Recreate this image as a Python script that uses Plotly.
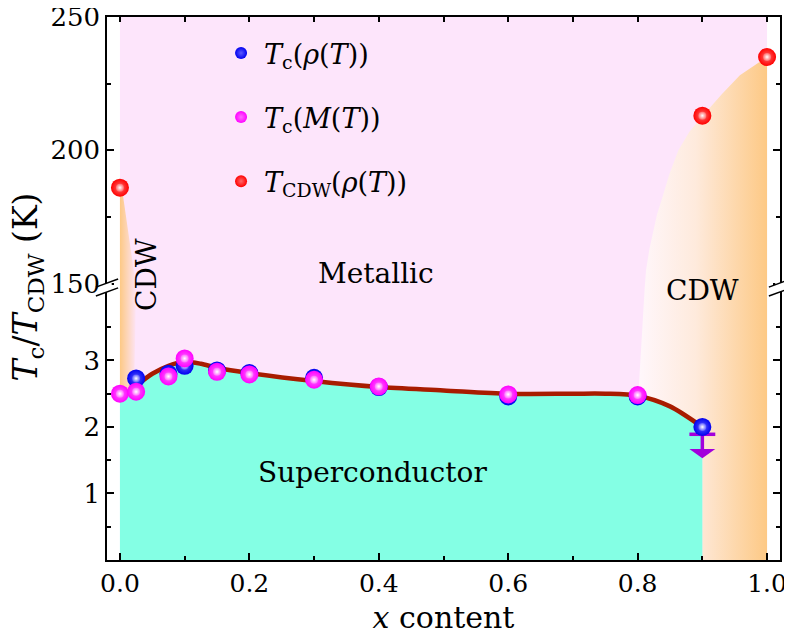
import plotly.graph_objects as go

# ---------------- data ----------------
x_rho = [0.025, 0.075, 0.1, 0.15, 0.2, 0.3, 0.4, 0.6, 0.8, 0.9]
tc_rho = [2.73, 2.80, 2.92, 2.85, 2.81, 2.74, 2.60, 2.46, 2.46, 2.00]

x_mag = [0.0, 0.025, 0.075, 0.1, 0.15, 0.2, 0.3, 0.4, 0.6, 0.8]
tc_mag = [2.50, 2.53, 2.76, 3.03, 2.83, 2.79, 2.71, 2.61, 2.49, 2.48]

x_cdw = [0.0, 0.9, 1.0]
t_cdw = [186, 213, 235]

# superconducting dome boundary (guide line)
sc_x = [0.0, 0.025, 0.05, 0.075, 0.1, 0.125, 0.15, 0.2, 0.3, 0.4, 0.5, 0.6, 0.7, 0.75, 0.8, 0.85, 0.9]
sc_y = [2.42, 2.62, 2.80, 2.92, 2.98, 2.95, 2.89, 2.81, 2.69, 2.60, 2.55, 2.50, 2.50, 2.50, 2.47, 2.31, 2.00]

# right CDW phase boundary (upper panel)
cdw_bx = [0.811, 0.813, 0.818, 0.824, 0.83, 0.837, 0.849, 0.863, 0.88, 0.9, 0.93, 0.958, 1.0]
cdw_by = [148.75, 155, 162.7, 170, 176, 181.4, 191, 200, 207, 212.8, 221, 228.2, 235]

# upper-limit point
ul_x = 0.9
ul_y = 2.0

x_ticks = [0.0, 0.2, 0.4, 0.6, 0.8, 1.0]
x_ticklabels = ["0.0", "0.2", "0.4", "0.6", "0.8", "1.0"]
y_low_ticks = [1, 2, 3]
y_high_ticks = [150, 200, 250]

# ---------------- style ----------------
FONT = "DejaVu Serif"
PINK = "#fde5fb"
CYAN = "#84ffe4"
ORANGE = "#fdc985"
LINE = "#a81c00"
PURPLE = "#a200dc"

Y_LOW = [0, 4.105]
Y_HIGH = [148.75, 250]
X_RANGE = [-0.02, 1.02]
D = 0.5028

fig = go.Figure()

# left CDW strip (upper)
fig.add_trace(go.Scatter(
    x=[x_cdw[0], x_cdw[0] + 0.003, 0.025, x_cdw[0]],
    y=[t_cdw[0], t_cdw[0], Y_HIGH[0], Y_HIGH[0]],
    xaxis="x2", yaxis="y2", mode="lines", line=dict(width=0), fill="toself",
    fillgradient=dict(type="horizontal", colorscale=[[0, ORANGE], [1, PINK]], start=0, stop=0.026),
    hoverinfo="skip", showlegend=False))
# left CDW strip (lower)
fig.add_trace(go.Scatter(
    x=[0.0, 0.025, 0.022, 0.0],
    y=[Y_LOW[1], Y_LOW[1], 2.6, 2.45],
    xaxis="x", yaxis="y", mode="lines", line=dict(width=0), fill="toself",
    fillgradient=dict(type="horizontal", colorscale=[[0, ORANGE], [1, PINK]], start=0, stop=0.026),
    hoverinfo="skip", showlegend=False))

grad_cs = [[0, "#fff7fc"], [0.45, "#feeadc"], [1, ORANGE]]
# right CDW (upper)
fig.add_trace(go.Scatter(
    x=cdw_bx + [1.0, cdw_bx[0]],
    y=cdw_by + [Y_HIGH[0], Y_HIGH[0]],
    xaxis="x2", yaxis="y2", mode="lines", line=dict(width=0), fill="toself",
    fillgradient=dict(type="horizontal", colorscale=grad_cs, start=0.8, stop=1.0),
    hoverinfo="skip", showlegend=False))
# right CDW (lower)
fig.add_trace(go.Scatter(
    x=[0.8, 0.811, 1.0, 1.0, 0.9, 0.9],
    y=[2.3, Y_LOW[1], Y_LOW[1], 0, 0, 1.9],
    xaxis="x", yaxis="y", mode="lines", line=dict(width=0), fill="toself",
    fillgradient=dict(type="horizontal", colorscale=grad_cs, start=0.8, stop=1.0),
    hoverinfo="skip", showlegend=False))

# superconducting region
fig.add_trace(go.Scatter(
    x=sc_x, y=sc_y, xaxis="x", yaxis="y", mode="lines",
    line=dict(width=0, shape="spline", smoothing=0.8), fill="tozeroy", fillcolor=CYAN,
    hoverinfo="skip", showlegend=False))
# guide line
fig.add_trace(go.Scatter(
    x=sc_x[1:], y=sc_y[1:], xaxis="x", yaxis="y", mode="lines",
    line=dict(width=4.5, color=LINE, shape="spline", smoothing=0.8),
    hoverinfo="skip", showlegend=False))

# upper-limit arrow
fig.add_trace(go.Scatter(
    x=[ul_x - 0.02, ul_x + 0.02, None, ul_x, ul_x],
    y=[ul_y - 0.11, ul_y - 0.11, None, ul_y - 0.11, ul_y - 0.36],
    xaxis="x", yaxis="y", mode="lines", line=dict(width=3.5, color=PURPLE),
    hoverinfo="skip", showlegend=False))
fig.add_trace(go.Scatter(
    x=[ul_x - 0.02, ul_x + 0.02, ul_x, ul_x - 0.02],
    y=[ul_y - 0.33, ul_y - 0.33, ul_y - 0.47, ul_y - 0.33],
    xaxis="x", yaxis="y", mode="lines", line=dict(width=0), fill="toself", fillcolor=PURPLE,
    hoverinfo="skip", showlegend=False))

def spheres(x, y, xax, yax, color, light, name, group):
    fig.add_trace(go.Scatter(
        x=x, y=y, xaxis=xax, yaxis=yax, mode="markers", name=name, legendgroup=group,
        marker=dict(size=18, color=color, line=dict(width=0),
                    gradient=dict(type="radial", color=light))))
    fig.add_trace(go.Scatter(
        x=x, y=y, xaxis=xax, yaxis=yax, mode="markers", showlegend=False, legendgroup=group,
        hoverinfo="skip",
        marker=dict(size=8, color=light, line=dict(width=0),
                    gradient=dict(type="radial", color="white"))))

spheres(x_rho, tc_rho, "x", "y", "#0000f0", "#5a5aff",
        "<i>T</i><sub>c</sub>(<i>ρ</i>(<i>T</i>))", "g1")
spheres(x_mag, tc_mag, "x", "y", "#ff00ff", "#ff6aff",
        "<i>T</i><sub>c</sub>(<i>M</i>(<i>T</i>))", "g2")
spheres(x_cdw, t_cdw, "x2", "y2", "#ff0000", "#ff6a6a",
        "<i>T</i><sub>CDW</sub>(<i>ρ</i>(<i>T</i>))", "g3")

axis_common = dict(showline=True, linecolor="black", linewidth=1.5, ticks="inside",
                   tickcolor="black", tickwidth=1.5, showgrid=False, zeroline=False,
                   automargin=False, ticklabeloverflow="allow")

fig.update_layout(
    width=792, height=642,
    margin=dict(l=99, r=20, t=9, b=90),
    paper_bgcolor="white", plot_bgcolor="rgba(0,0,0,0)",
    font=dict(family=FONT, size=24, color="black"),
    xaxis=dict(domain=[0, 1], range=X_RANGE, anchor="y", side="bottom",
               tickvals=x_ticks, ticktext=x_ticklabels, ticklen=7,
               minor=dict(dtick=0.1, ticklen=4, ticks="inside", tickcolor="black", tickwidth=1.5),
               tickfont=dict(size=25),
               title=dict(text="<i>x</i> content", font=dict(size=30), standoff=10),
               **axis_common),
    xaxis2=dict(domain=[0, 1], range=X_RANGE, anchor="y2", side="top",
                matches="x", tickvals=x_ticks, ticklen=5, showticklabels=False,
                minor=dict(dtick=0.1, ticklen=5, ticks="inside", tickcolor="black", tickwidth=1.5),
                **axis_common),
    yaxis=dict(domain=[0, D], range=Y_LOW, anchor="x", tickvals=y_low_ticks, ticklen=7,
               mirror="allticks",
               minor=dict(tickvals=[0.5, 1.5, 2.5, 3.5], ticklen=4, ticks="inside",
                          tickcolor="black", tickwidth=1.5),
               tickfont=dict(size=26), **axis_common),
    yaxis2=dict(domain=[D, 1], range=Y_HIGH, anchor="x2", tickvals=y_high_ticks, ticklen=7,
                mirror="allticks",
                minor=dict(tickvals=[175, 225], ticklen=4, ticks="inside",
                           tickcolor="black", tickwidth=1.5),
                tickfont=dict(size=26), **axis_common),
    legend=dict(x=0.165, y=0.978, xanchor="left", yanchor="top", bgcolor="rgba(0,0,0,0)",
                font=dict(size=27), tracegroupgap=26, itemsizing="constant", itemwidth=36),
    showlegend=True,
)

# pink metallic background
fig.add_shape(type="rect", xref="x", yref="paper", x0=0, x1=1, y0=0, y1=1,
              fillcolor=PINK, line=dict(width=0), layer="below")

# axis break: gap in the spines and slanted marks
for xb in [0, 1]:
    fig.add_shape(type="rect", xref="paper", yref="paper", x0=xb - 0.007, x1=xb + 0.007,
                  y0=0.4936, y1=0.5101, fillcolor="white", line=dict(width=0), layer="above")
    for yb in [0.5101, 0.4936]:
        fig.add_shape(type="line", xref="paper", yref="paper",
                      x0=xb - 0.0165, x1=xb + 0.0165, y0=yb - 0.0075, y1=yb + 0.0075,
                      line=dict(color="black", width=1.5), layer="above")

# texts
fig.add_annotation(text="Metallic", xref="x", yref="paper", x=0.395, y=0.528,
                   showarrow=False, font=dict(size=28))
fig.add_annotation(text="CDW", xref="x", yref="paper", x=0.042, y=0.525, textangle=-90,
                   showarrow=False, font=dict(size=28))
fig.add_annotation(text="CDW", xref="x", yref="paper", x=0.9, y=0.497,
                   showarrow=False, font=dict(size=28))
fig.add_annotation(text="Superconductor", xref="x", yref="y", x=0.391, y=1.32,
                   showarrow=False, font=dict(size=28))
fig.add_annotation(text="<i>T</i><sub>c</sub>/<i>T</i><sub>CDW</sub> (K)", xref="paper", yref="paper",
                   x=-0.118, y=0.503, xanchor="center", yanchor="middle", textangle=-90,
                   showarrow=False, font=dict(size=33))

fig.write_html("out.html")
